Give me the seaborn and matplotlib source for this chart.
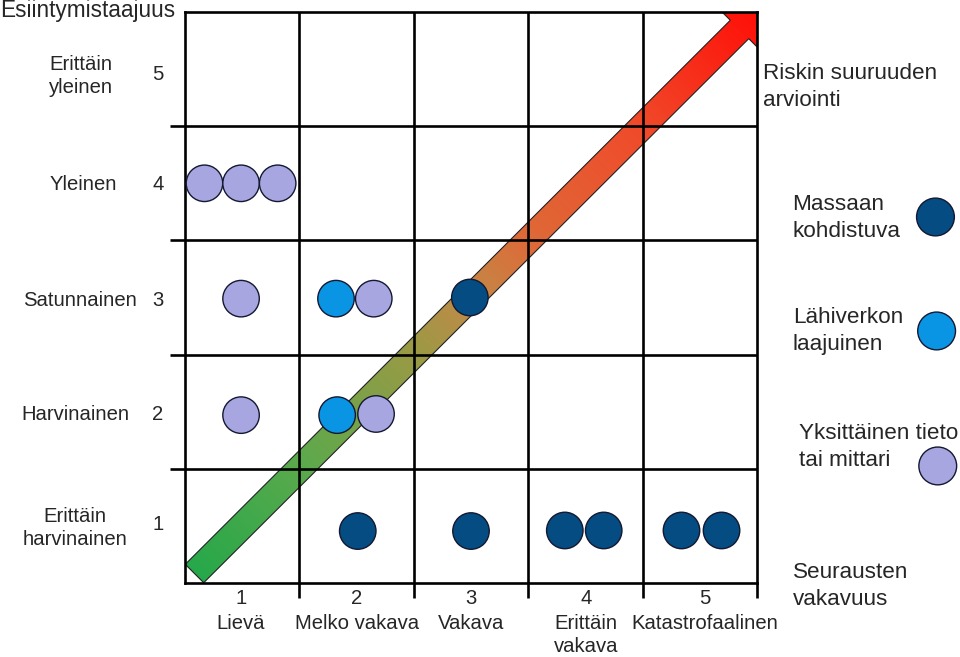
import numpy as np
import pandas as pd
import matplotlib
matplotlib.use("Agg")
import matplotlib.pyplot as plt
import seaborn as sns
from matplotlib.patches import Polygon
from matplotlib.colors import LinearSegmentedColormap

# ---------------- data ----------------
freq_labels = ["Erittäin\nharvinainen", "Harvinainen", "Satunnainen", "Yleinen", "Erittäin\nyleinen"]
freq_levels = [1, 2, 3, 4, 5]
sev_labels = ["Lievä", "Melko vakava", "Vakava", "Erittäin\nvakava", "Katastrofaalinen"]
sev_levels = [1, 2, 3, 4, 5]

categories = ["Massaan\nkohdistuva", "Lähiverkon\nlaajuinen", "Yksittäinen tieto\ntai mittari"]
cat_colors = ["#044c82", "#0a94e4", "#a8a6e0"]

# observed points (severity x, frequency y, category)
pt_x = [0.67, 0.99, 1.31, 0.99, 2.15, 0.99, 2.17,
        1.82, 1.83,
        2.99, 2.01, 3.00, 3.82, 4.16, 4.84, 5.19]
pt_y = [4.00, 4.00, 4.00, 2.99, 2.99, 1.97, 1.98,
        2.99, 1.97,
        3.00, 0.955, 0.955, 0.96, 0.96, 0.96, 0.96]
pt_cat = [categories[2]] * 7 + [categories[1]] * 2 + [categories[0]] * 7

title_y = "Esiintymistaajuus"
title_x = "Seurausten\nvakavuus"
arrow_label = "Riskin suuruuden\narviointi"

# ---------------- style ----------------
sns.set_style("white")
plt.rcParams["font.family"] = ["Liberation Sans", "DejaVu Sans"]
FS_L = 14.6   # left labels
FS_B = 14.6   # bottom labels
FS_R = 16.2   # right-side texts

W, H = 960, 657
fig = plt.figure(figsize=(W / 100, H / 100), dpi=100)
ax = fig.add_axes([185 / W, (H - 583) / H, 572 / W, 571 / H])
ax.set_xlim(0.5, 5.5)
ax.set_ylim(0.5, 5.5)

def px(x, y):
    return x / W, 1 - y / H

# ---------------- gradient arrow ----------------
start = np.array([0.583, 0.583])
end = np.array([5.5, 5.5])
shaft_hw, head_hw, head_len = 0.114, 0.216, 0.216
u = (end - start) / np.linalg.norm(end - start)
n = np.array([-u[1], u[0]])
base = end - u * head_len
poly = np.array([
    start + n * shaft_hw,
    base + n * shaft_hw,
    base + n * head_hw,
    end,
    base - n * head_hw,
    base - n * shaft_hw,
    start - n * shaft_hw,
])
cmap = LinearSegmentedColormap.from_list("risk", [
    (0.0, "#22a84a"), (0.2, "#5aaa4c"), (0.4, "#9a9a45"), (0.5, "#c28a48"),
    (0.6, "#de6a38"), (0.8, "#f04a2a"), (1.0, "#ff1008")])
gx = np.linspace(0.5, 5.5, 400)
GX, GY = np.meshgrid(gx, gx)
G = (((GX + GY) / 2) - 0.5) / 5
patch = Polygon(poly, closed=True, facecolor="none", edgecolor="#222222", lw=0.8, zorder=1.5)
ax.add_patch(patch)
im = ax.imshow(G, extent=[0.5, 5.5, 0.5, 5.5], origin="lower", cmap=cmap,
               vmin=0, vmax=1, aspect="auto", zorder=1, interpolation="bilinear")
im.set_clip_path(patch)

# ---------------- grid ----------------
for v in [1.5, 2.5, 3.5, 4.5]:
    ax.axvline(v, color="black", lw=1.9, zorder=2)
    ax.axhline(v, color="black", lw=1.9, zorder=2)
for s in ax.spines.values():
    s.set_visible(True)
    s.set_color("black")
    s.set_linewidth(1.9)
    s.set_zorder(2.5)
ax.set_xticks([1.5, 2.5, 3.5, 4.5, 5.5])
ax.set_yticks([1.5, 2.5, 3.5, 4.5])
ax.tick_params(axis="both", direction="out", length=11, width=1.9, color="black",
               labelbottom=False, labelleft=False, bottom=True, left=True)

# ---------------- points ----------------
df = pd.DataFrame({"x": pt_x, "y": pt_y, "cat": pt_cat})
palette = dict(zip(categories, cat_colors))
sns.scatterplot(data=df, x="x", y="y", hue="cat", palette=palette, s=690,
                edgecolor="#141830", linewidth=1.0, legend=False, ax=ax, zorder=3)

# legend markers (manual, to the right)
leg_df = pd.DataFrame({"x": [7.06, 7.07, 7.08], "y": [3.705, 2.707, 1.525], "cat": categories})
sns.scatterplot(data=leg_df, x="x", y="y", hue="cat", palette=palette, s=740,
                edgecolor="#141830", linewidth=1.0, legend=False, ax=ax, zorder=3,
                clip_on=False)
ax.set_xlim(0.5, 5.5)
ax.set_ylim(0.5, 5.5)
ax.set_xlabel("")
ax.set_ylabel("")

# ---------------- texts ----------------
fig.text(*px(0, 17), title_y, fontsize=16.3, ha="left", va="baseline")

name_x = [75, 75, 80, 83, 81]
name_y = [528, 414, 300, 185, 76]
num_y = [524, 414, 300, 185, 75]
for lab, lev, nx, ny, my in zip(freq_labels, freq_levels, name_x, name_y, num_y):
    fig.text(*px(nx, ny), lab, fontsize=FS_L, ha="center", va="center", linespacing=1.3)
    fig.text(*px(158, my), str(lev), fontsize=FS_L, ha="center", va="center")

sev_x = [241, 357, 471, 586, 705]
for lab, lev, sx in zip(sev_labels, sev_levels, sev_x):
    fig.text(*px(sx, 598), str(lev), fontsize=FS_B, ha="center", va="center")
    fig.text(*px(sx, 614), lab, fontsize=FS_B, ha="center", va="top", linespacing=1.3)

fig.text(*px(763, 87), arrow_label, fontsize=FS_R, ha="left", va="center", linespacing=1.35)
cat_tx = [792, 793, 799]
cat_ty = [218, 331, 447]
for lab, tx, ty in zip(categories, cat_tx, cat_ty):
    fig.text(*px(tx, ty), lab, fontsize=FS_R, ha="left", va="center", linespacing=1.35)
fig.text(*px(793, 586), title_x, fontsize=FS_R, ha="left", va="center", linespacing=1.35)

fig.savefig("out.png", dpi=100)
